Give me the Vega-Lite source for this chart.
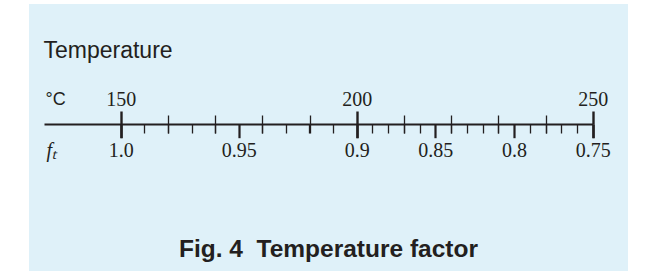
{
  "$schema": "https://vega.github.io/schema/vega-lite/v6.json",
  "width": 599,
  "height": 267,
  "autosize": {"type": "none"},
  "padding": {"left": 29, "top": 4, "right": 37, "bottom": 0},
  "background": "#ffffff",
  "config": {
    "view": {"fill": "#dff1f9", "stroke": null},
    "axis": {
      "grid": false,
      "labelOverlap": false,
      "labelFlush": false,
      "domainColor": "#231f20",
      "tickColor": "#231f20",
      "labelColor": "#231f20",
      "titleColor": "#231f20",
      "tickCap": "butt"
    }
  },
  "title": {
    "text": "Fig. 4\u00a0 Temperature factor",
    "orient": "bottom",
    "frame": "group",
    "anchor": "middle",
    "offset": -14,
    "baseline": "alphabetic",
    "font": "Liberation Sans",
    "fontSize": 24.5,
    "fontWeight": "bold",
    "color": "#231f20"
  },
  "datasets": {
    "pairs": [
      {"T": 150, "f": 1.0},
      {"T": 200, "f": 0.9},
      {"T": 250, "f": 0.75}
    ]
  },
  "data": {"name": "pairs"},
  "layer": [
    {
      "mark": {"type": "point", "opacity": 0},
      "encoding": {
        "x": {
          "field": "T",
          "type": "quantitative",
          "scale": {"domain": [133.75, 250], "range": [15, 563.7], "zero": false, "nice": false},
          "axis": {
            "orient": "top",
            "offset": -120,
            "values": [150, 160, 170, 180, 190, 200, 210, 220, 230, 240, 250],
            "labelExpr": "datum.value % 50 === 0 ? datum.label : ''",
            "labelFont": "Liberation Serif",
            "labelFontSize": 20,
            "labelPadding": 6,
            "labelBaseline": "alphabetic",
            "domainWidth": 2,
            "tickSize": {"condition": {"test": "datum.value % 50 === 0", "value": 13}, "value": 9},
            "tickWidth": {"condition": {"test": "datum.value % 50 === 0", "value": 2.4}, "value": 1.3},
            "title": "Temperature",
            "titleFont": "Liberation Sans",
            "titleFontSize": 23,
            "titleFontWeight": "normal",
            "titleX": 14,
            "titleY": -67,
            "titleAlign": "left",
            "titleBaseline": "alphabetic"
          }
        }
      }
    },
    {
      "mark": {"type": "point", "opacity": 0},
      "encoding": {
        "x": {
          "field": "T",
          "type": "quantitative",
          "scale": {"domain": [133.75, 250], "range": [15, 563.7], "zero": false, "nice": false},
          "axis": {
            "orient": "bottom",
            "offset": -147,
            "values": [150, 160, 170, 180, 190, 200, 210, 220, 230, 240, 250],
            "labels": false,
            "domain": false,
            "tickSize": {"condition": {"test": "datum.value % 50 === 0", "value": 13.7}, "value": 9},
            "tickWidth": {"condition": {"test": "datum.value % 50 === 0", "value": 2.4}, "value": 1.3},
            "title": "°C",
            "titleFont": "Liberation Sans",
            "titleFontSize": 18,
            "titleFontWeight": "normal",
            "titleX": 16,
            "titleY": -19.5,
            "titleAlign": "left",
            "titleBaseline": "alphabetic"
          }
        }
      }
    },
    {
      "mark": {"type": "point", "opacity": 0},
      "encoding": {
        "x": {
          "field": "f",
          "type": "quantitative",
          "scale": {"domain": [1, 0.9, 0.75], "range": [91.7, 327.7, 563.7], "zero": false, "nice": false},
          "axis": {
            "orient": "bottom",
            "offset": -147,
            "values": [1, 0.99, 0.98, 0.97, 0.96, 0.95, 0.94, 0.93, 0.92, 0.91, 0.9, 0.89, 0.88, 0.87, 0.86, 0.85, 0.84, 0.83, 0.82, 0.81, 0.8, 0.79, 0.78, 0.77, 0.76, 0.75],
            "labelExpr": "indexof([100,95,90,85,80,75], round(datum.value*100)) >= 0 ? (datum.value === 1 ? '1.0' : format(datum.value, '.2~f')) : ''",
            "labelFont": "Liberation Serif",
            "labelFontSize": 20,
            "labelPadding": 19,
            "labelBaseline": "alphabetic",
            "domain": false,
            "tickSize": {"condition": {"test": "indexof([100,95,90,85,80,75], round(datum.value*100)) >= 0", "value": 13.7}, "value": 9},
            "tickWidth": {"condition": {"test": "indexof([100,95,90,85,80,75], round(datum.value*100)) >= 0", "value": 2.2}, "value": 1.3},
            "title": "fₜ",
            "titleFont": "Liberation Serif",
            "titleFontSize": 20,
            "titleFontStyle": "italic",
            "titleFontWeight": "normal",
            "titleX": 17,
            "titleY": 32,
            "titleAlign": "left",
            "titleBaseline": "alphabetic"
          }
        }
      }
    }
  ],
  "resolve": {"scale": {"x": "independent"}, "axis": {"x": "independent"}}
}
